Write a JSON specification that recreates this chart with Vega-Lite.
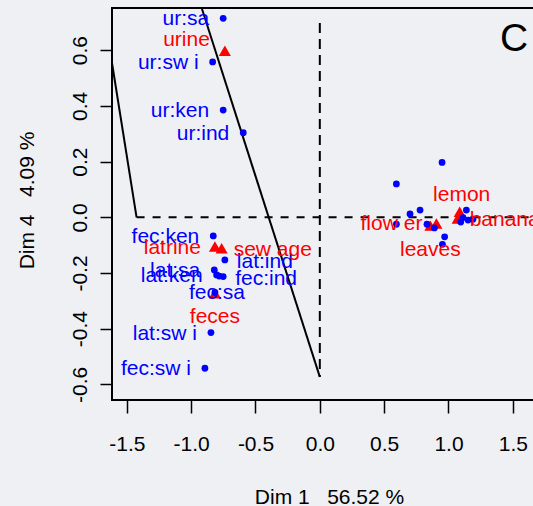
{
  "$schema": "https://vega.github.io/schema/vega-lite/v6.json",
  "width": 433,
  "height": 392,
  "autosize": {"type": "none"},
  "padding": {"left": 112, "top": 8, "right": 0, "bottom": 106},
  "background": "#eef0f3",
  "config": {
    "view": {"stroke": "#000000", "strokeWidth": 2},
    "font": "Liberation Sans",
    "text": {"font": "Liberation Sans"}
  },
  "datasets": {
    "pts": [
      {"label": "ur:sa", "type": "col", "x": -0.751, "y": 0.7145, "pos": "left"},
      {"label": "ur:sw i", "type": "col", "x": -0.833, "y": 0.558, "pos": "left"},
      {"label": "ur:ken", "type": "col", "x": -0.751, "y": 0.385, "pos": "left"},
      {"label": "ur:ind", "type": "col", "x": -0.595, "y": 0.304, "pos": "left"},
      {"label": "fec:ken", "type": "col", "x": -0.828, "y": -0.067, "pos": "left"},
      {"label": "lat:ind", "type": "col", "x": -0.738, "y": -0.153, "pos": "right"},
      {"label": "lat:sa", "type": "col", "x": -0.82, "y": -0.189, "pos": "left"},
      {"label": "lat:ken", "type": "col", "x": -0.802, "y": -0.207, "pos": "left"},
      {"label": "", "type": "col", "x": -0.782, "y": -0.211, "pos": "none"},
      {"label": "fec:ind", "type": "col", "x": -0.751, "y": -0.213, "pos": "right"},
      {"label": "fec:sa", "type": "col", "x": -0.815, "y": -0.27, "pos": "center"},
      {"label": "lat:sw i", "type": "col", "x": -0.846, "y": -0.414, "pos": "left"},
      {"label": "fec:sw i", "type": "col", "x": -0.893, "y": -0.542, "pos": "left"},
      {"label": "", "type": "col", "x": 0.95, "y": 0.197, "pos": "none"},
      {"label": "", "type": "col", "x": 0.595, "y": 0.12, "pos": "none"},
      {"label": "", "type": "col", "x": 0.701, "y": 0.012, "pos": "none"},
      {"label": "", "type": "col", "x": 0.779, "y": 0.026, "pos": "none"},
      {"label": "", "type": "col", "x": 0.595, "y": -0.025, "pos": "none"},
      {"label": "", "type": "col", "x": 0.833, "y": -0.025, "pos": "none"},
      {"label": "", "type": "col", "x": 0.89, "y": -0.038, "pos": "none"},
      {"label": "", "type": "col", "x": 0.97, "y": -0.07, "pos": "none"},
      {"label": "", "type": "col", "x": 0.953, "y": -0.097, "pos": "none"},
      {"label": "", "type": "col", "x": 1.139, "y": 0.026, "pos": "none"},
      {"label": "", "type": "col", "x": 1.113, "y": -0.001, "pos": "none"},
      {"label": "", "type": "col", "x": 1.095, "y": -0.017, "pos": "none"},
      {"label": "", "type": "col", "x": 1.152, "y": -0.01, "pos": "none"},
      {"label": "", "type": "col", "x": 1.19, "y": -0.007, "pos": "none"},
      {"label": "urine", "type": "row", "x": -0.738, "y": 0.598, "pos": "upleft"},
      {"label": "latrine", "type": "row", "x": -0.815, "y": -0.105, "pos": "left"},
      {"label": "sew age", "type": "row", "x": -0.763, "y": -0.111, "pos": "right"},
      {"label": "feces", "type": "row", "x": -0.815, "y": -0.273, "pos": "below"},
      {"label": "lemon", "type": "row", "x": 1.087, "y": 0.02, "pos": "above"},
      {"label": "banana", "type": "row", "x": 1.071, "y": -0.004, "pos": "right"},
      {"label": "flow er", "type": "row", "x": 0.906, "y": -0.022, "pos": "left"},
      {"label": "leaves", "type": "row", "x": 0.859, "y": -0.03, "pos": "below"}
    ],
    "solid": [
      {"x": -1.615, "y": 0.554, "x2": -1.424, "y2": 0},
      {"x": -0.918, "y": 0.7515, "x2": 0, "y2": -0.573}
    ],
    "vdash": [{"x": 0, "y": 0.698, "y2": -0.573}],
    "hdash": [{"x": -1.424, "x2": 1.75, "y": 0}],
    "panel": [{"x": 1.51, "y": 0.64, "label": "C"}]
  },
  "encoding": {
    "x": {
      "field": "x", "type": "quantitative",
      "scale": {"domain": [-1.615, 1.75], "nice": false, "zero": false},
      "axis": {
        "title": "Dim 1 \u00a0\u00a056.52 %",
        "values": [-1.5, -1, -0.5, 0, 0.5, 1, 1.5],
        "labelExpr": "replace(format(datum.value, '.1f'), '\u2212', '-')",
        "domain": false, "grid": false,
        "tickSize": 13, "tickWidth": 1.5, "tickColor": "#000000",
        "labelFont": "Liberation Sans", "labelFontSize": 21, "labelColor": "#000000",
        "labelBaseline": "alphabetic", "labelPadding": 37, "labelAlign": "center",
        "labelFlush": false, "labelOverlap": false,
        "titleFont": "Liberation Sans", "titleFontSize": 21, "titleFontWeight": "normal", "titleColor": "#000000",
        "titleX": 217, "titleY": 103, "titleBaseline": "alphabetic", "titleAlign": "center"
      }
    },
    "y": {
      "field": "y", "type": "quantitative",
      "scale": {"domain": [-0.656, 0.7515], "nice": false, "zero": false},
      "axis": {
        "title": "Dim 4 \u00a0\u00a04.09 %",
        "values": [-0.6, -0.4, -0.2, 0, 0.2, 0.4, 0.6],
        "labelExpr": "replace(format(datum.value, '.1f'), '\u2212', '-')",
        "domain": false, "grid": false,
        "tickSize": 12, "tickWidth": 1.5, "tickColor": "#000000",
        "labelFont": "Liberation Sans", "labelFontSize": 21, "labelColor": "#000000",
        "labelAngle": 270, "labelAlign": "center", "labelBaseline": "alphabetic", "labelPadding": 14,
        "labelFlush": false, "labelOverlap": false,
        "titleFont": "Liberation Sans", "titleFontSize": 21, "titleFontWeight": "normal", "titleColor": "#000000",
        "titleAngle": 270, "titleX": -79, "titleY": 192, "titleBaseline": "alphabetic", "titleAlign": "center"
      }
    }
  },
  "layer": [
    {
      "data": {"name": "solid"},
      "mark": {"type": "rule", "color": "#000000", "strokeWidth": 2},
      "encoding": {"x2": {"field": "x2"}, "y2": {"field": "y2"}}
    },
    {
      "data": {"name": "vdash"},
      "mark": {"type": "rule", "color": "#000000", "strokeWidth": 2, "strokeDash": [10, 6]},
      "encoding": {"y2": {"field": "y2"}}
    },
    {
      "data": {"name": "hdash"},
      "mark": {"type": "rule", "color": "#000000", "strokeWidth": 2, "strokeDash": [8, 8]},
      "encoding": {"x2": {"field": "x2"}}
    },
    {
      "data": {"name": "pts"},
      "transform": [{"filter": "datum.type == 'row'"}],
      "mark": {"type": "point", "shape": "triangle-up", "filled": true, "size": 145, "color": "#ff0000", "opacity": 1}
    },
    {
      "data": {"name": "pts"},
      "transform": [{"filter": "datum.type == 'col'"}],
      "mark": {"type": "circle", "size": 46, "color": "#0000ff", "opacity": 1}
    },
    {
      "data": {"name": "pts"},
      "transform": [{"filter": "datum.pos == 'left'"}],
      "mark": {"type": "text", "align": "right", "baseline": "middle", "dx": -14, "dy": 1, "fontSize": 21},
      "encoding": {
        "text": {"field": "label"},
        "color": {"field": "type", "type": "nominal", "scale": {"domain": ["col", "row"], "range": ["#0000ff", "#ff0000"]}, "legend": null}
      }
    },
    {
      "data": {"name": "pts"},
      "transform": [{"filter": "datum.pos == 'right'"}],
      "mark": {"type": "text", "align": "left", "baseline": "middle", "dx": 12, "dy": 2, "fontSize": 21},
      "encoding": {
        "text": {"field": "label"},
        "color": {"field": "type", "type": "nominal", "scale": {"domain": ["col", "row"], "range": ["#0000ff", "#ff0000"]}, "legend": null}
      }
    },
    {
      "data": {"name": "pts"},
      "transform": [{"filter": "datum.pos == 'upleft'"}],
      "mark": {"type": "text", "align": "right", "baseline": "middle", "dx": -15, "dy": -11, "fontSize": 21},
      "encoding": {
        "text": {"field": "label"},
        "color": {"field": "type", "type": "nominal", "scale": {"domain": ["col", "row"], "range": ["#0000ff", "#ff0000"]}, "legend": null}
      }
    },
    {
      "data": {"name": "pts"},
      "transform": [{"filter": "datum.pos == 'above'"}],
      "mark": {"type": "text", "align": "center", "baseline": "middle", "dx": 2, "dy": -17, "fontSize": 21},
      "encoding": {
        "text": {"field": "label"},
        "color": {"field": "type", "type": "nominal", "scale": {"domain": ["col", "row"], "range": ["#0000ff", "#ff0000"]}, "legend": null}
      }
    },
    {
      "data": {"name": "pts"},
      "transform": [{"filter": "datum.pos == 'below'"}],
      "mark": {"type": "text", "align": "center", "baseline": "middle", "dy": 24, "fontSize": 21},
      "encoding": {
        "text": {"field": "label"},
        "color": {"field": "type", "type": "nominal", "scale": {"domain": ["col", "row"], "range": ["#0000ff", "#ff0000"]}, "legend": null}
      }
    },
    {
      "data": {"name": "pts"},
      "transform": [{"filter": "datum.pos == 'center'"}],
      "mark": {"type": "text", "align": "center", "baseline": "middle", "dx": 2, "dy": 1, "fontSize": 21},
      "encoding": {
        "text": {"field": "label"},
        "color": {"field": "type", "type": "nominal", "scale": {"domain": ["col", "row"], "range": ["#0000ff", "#ff0000"]}, "legend": null}
      }
    },
    {
      "data": {"name": "panel"},
      "mark": {"type": "text", "align": "center", "baseline": "middle", "fontSize": 39, "color": "#000000"},
      "encoding": {"text": {"field": "label"}}
    }
  ]
}
